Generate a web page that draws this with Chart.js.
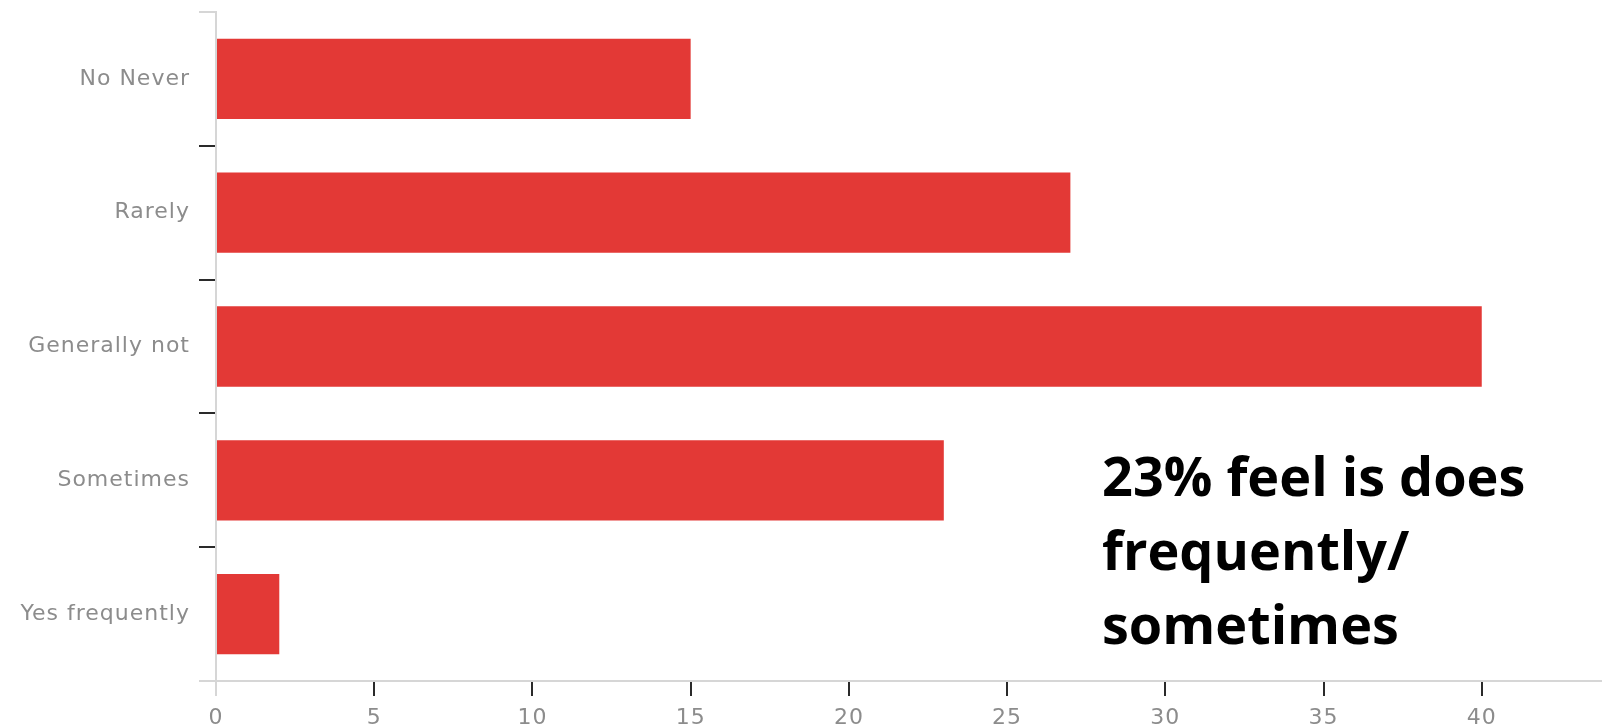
<!DOCTYPE html>
<html>
<head>
<meta charset="utf-8">
<script src="https://cdn.jsdelivr.net/npm/chart.js@4/dist/chart.umd.min.js"></script>
<style>
  html, body { margin: 0; padding: 0; background: #fff; }
  #wrap { width: 1602px; height: 727px; }
</style>
</head>
<body>
<div id="wrap"><canvas id="barChart" width="1602" height="727"></canvas></div>
<script>
// survey answers and counts
var categories = ["No Never", "Rarely", "Generally not", "Sometimes", "Yes frequently"];
var responses = [15, 27, 40, 23, 2];
var xTickStep = 5;
var xMax = 43.8;
var noteLines = ["23% feel is does", "frequently/", "sometimes"];

var barColor = "#e33936";
var labelColor = "#8c8c8c";
var axisGray = "#d6d6d6";
var tickDark = "#2a2a2a";

// spaced-out axis labels, normal spacing for the note
var spacing = {
    id: "spacing",
    beforeDraw: function (chart) { chart.ctx.letterSpacing = "1px"; },
    afterDraw: function (chart) { chart.ctx.letterSpacing = "0px"; }
};

// bold comment on the right side of the plot
var note = {
    id: "note",
    afterDraw: function (chart) {
        var ctx = chart.ctx;
        ctx.save();
        ctx.letterSpacing = "0px";
        ctx.font = "bold 54px 'Open Sans'";
        ctx.fillStyle = "#000";
        ctx.textAlign = "left";
        ctx.textBaseline = "alphabetic";
        for (var i = 0; i < noteLines.length; i++) {
            ctx.fillText(noteLines[i], 1102, 496 + i * 74);
        }
        ctx.restore();
    }
};

var ctx = document.getElementById("barChart").getContext("2d");
new Chart(ctx, {
    type: "bar",
    data: {
        labels: categories,
        datasets: [{
            data: responses,
            backgroundColor: barColor,
            borderWidth: 0,
            barPercentage: 0.6,
            categoryPercentage: 1.0
        }]
    },
    options: {
        indexAxis: "y",
        responsive: false,
        animation: false,
        layout: { padding: { top: 12, right: 0, left: 0, bottom: 0 } },
        plugins: { legend: { display: false }, tooltip: { enabled: false } },
        scales: {
            x: {
                min: 0,
                max: xMax,
                grid: {
                    drawOnChartArea: false,
                    tickLength: 15,
                    lineWidth: 2,
                    color: function (c) { return c.index === 0 ? axisGray : tickDark; }
                },
                border: { color: axisGray, width: 2 },
                ticks: {
                    stepSize: xTickStep,
                    includeBounds: false,
                    color: labelColor,
                    padding: 9,
                    maxRotation: 0,
                    font: { family: "'DejaVu Sans'", size: 22 }
                },
                afterFit: function (s) { s.height = 46; s.paddingLeft = 0; s.paddingRight = 0; }
            },
            y: {
                grid: {
                    drawOnChartArea: false,
                    offset: true,
                    tickLength: 17,
                    lineWidth: 2,
                    // first and last boundary lines stay light, the inner ones are dark
                    color: function (c) {
                        return (c.type !== "tick" || c.index === 0) ? axisGray : tickDark;
                    }
                },
                border: { color: axisGray, width: 2 },
                ticks: {
                    color: labelColor,
                    padding: 9,
                    font: { family: "'DejaVu Sans'", size: 22 }
                },
                afterFit: function (s) { s.width = 216; s.paddingTop = 0; s.paddingBottom = 0; }
            }
        }
    },
    plugins: [spacing, note]
});
</script>
</body>
</html>
